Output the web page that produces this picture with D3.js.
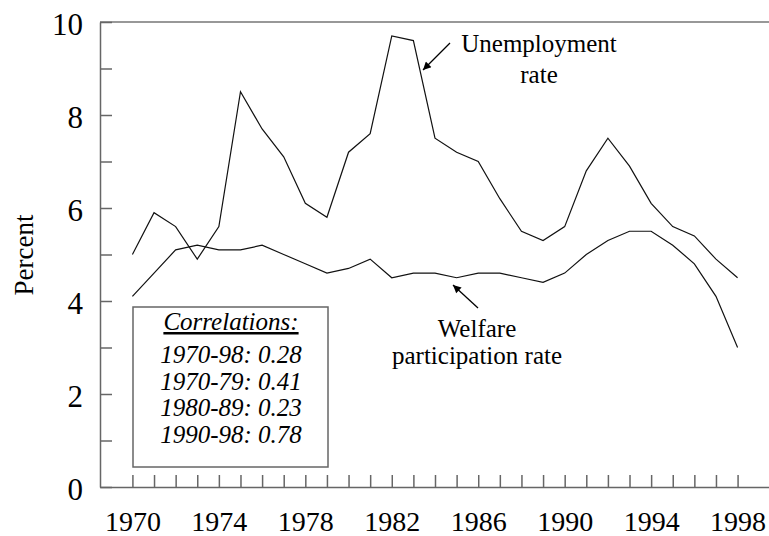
<!DOCTYPE html>
<html>
<head>
<meta charset="utf-8">
<script src="https://cdn.jsdelivr.net/npm/d3@7"></script>
<style>
  body { margin: 0; background: #fff; }
  svg { display: block; font-family: "Liberation Serif", "Times New Roman", serif; }
</style>
</head>
<body>
<svg id="chart" width="769" height="536"></svg>
<script>
"use strict";
// data
var years = d3.range(1970, 1999);
var unemployment = [5.0, 5.9, 5.6, 4.9, 5.6, 8.5, 7.7, 7.1, 6.1, 5.8,
                    7.2, 7.6, 9.7, 9.6, 7.5, 7.2, 7.0, 6.2, 5.5, 5.3,
                    5.6, 6.8, 7.5, 6.9, 6.1, 5.6, 5.4, 4.9, 4.5];
var welfare = [4.1, 4.6, 5.1, 5.2, 5.1, 5.1, 5.2, 5.0, 4.8, 4.6,
               4.7, 4.9, 4.5, 4.6, 4.6, 4.5, 4.6, 4.6, 4.5, 4.4,
               4.6, 5.0, 5.3, 5.5, 5.5, 5.2, 4.8, 4.1, 3.0];
var xLabelYears = [1970, 1974, 1978, 1982, 1986, 1990, 1994, 1998];
var yTicks = d3.range(0, 11);
var yLabels = [0, 2, 4, 6, 8, 10];
var corrTitle = "Correlations:";
var corrLines = ["1970-98: 0.28", "1970-79: 0.41", "1980-89: 0.23", "1990-98: 0.78"];

var svg = d3.select("#chart");
var plotLeft = 100, plotRight = 770, plotTop = 22, plotBottom = 487;

var x = d3.scaleLinear().domain([1968.5, 1999.5]).range([plotLeft, plotRight]);
var y = d3.scaleLinear().domain([0, 10]).range([plotBottom, plotTop]);

// top frame line
svg.append("line")
  .attr("x1", plotLeft).attr("x2", plotRight)
  .attr("y1", plotTop).attr("y2", plotTop)
  .attr("stroke", "#333").attr("stroke-width", 1.2);

// x axis, ticks pointing up
var xAxis = svg.append("g")
  .attr("transform", "translate(0," + plotBottom + ")")
  .call(d3.axisBottom(x).tickValues(years).tickSizeInner(-12).tickSizeOuter(0)
    .tickFormat(function(d) { return xLabelYears.indexOf(d) >= 0 ? d : ""; }));
xAxis.selectAll("path,line").attr("stroke", "#666").attr("stroke-width", 1.5);
xAxis.selectAll("text")
  .attr("y", 44).attr("dy", 0)
  .attr("fill", "#000")
  .style("font-family", "'Liberation Serif', 'Times New Roman', serif")
  .style("font-size", "28px");

// y axis, ticks pointing right
var yAxis = svg.append("g")
  .attr("transform", "translate(" + plotLeft + ",0)")
  .call(d3.axisLeft(y).tickValues(yTicks).tickSizeInner(-12).tickSizeOuter(0)
    .tickFormat(function(d) { return yLabels.indexOf(d) >= 0 ? d : ""; }));
yAxis.selectAll("path,line").attr("stroke", "#666").attr("stroke-width", 1.5);
yAxis.selectAll("text")
  .attr("x", -17).attr("dy", "0.4em")
  .attr("fill", "#000")
  .style("font-family", "'Liberation Serif', 'Times New Roman', serif")
  .style("font-size", "31px");

// axis title
svg.append("text")
  .attr("transform", "translate(33,255) rotate(-90)")
  .attr("text-anchor", "middle")
  .style("font-size", "27px")
  .text("Percent");

// series lines
var line = d3.line()
  .x(function(d, i) { return x(years[i]); })
  .y(function(d) { return y(d); });

svg.append("path").datum(unemployment)
  .attr("d", line).attr("fill", "none")
  .attr("stroke", "#111").attr("stroke-width", 1.2);
svg.append("path").datum(welfare)
  .attr("d", line).attr("fill", "none")
  .attr("stroke", "#111").attr("stroke-width", 1.2);

// arrowhead
svg.append("defs").append("marker")
  .attr("id", "arrow")
  .attr("viewBox", "0 0 10 10")
  .attr("refX", 10).attr("refY", 5)
  .attr("markerWidth", 10).attr("markerHeight", 8)
  .attr("markerUnits", "userSpaceOnUse")
  .attr("orient", "auto")
  .append("path").attr("d", "M0,0 L10,5 L0,10 z").attr("fill", "#000");

// annotations
svg.append("line")
  .attr("x1", 450).attr("y1", 43).attr("x2", 423).attr("y2", 70)
  .attr("stroke", "#000").attr("stroke-width", 1.3)
  .attr("marker-end", "url(#arrow)");
svg.append("text").attr("x", 539).attr("y", 52).attr("text-anchor", "middle")
  .style("font-size", "25px").text("Unemployment");
svg.append("text").attr("x", 539).attr("y", 83).attr("text-anchor", "middle")
  .style("font-size", "25px").text("rate");

svg.append("line")
  .attr("x1", 478).attr("y1", 308).attr("x2", 453).attr("y2", 285)
  .attr("stroke", "#000").attr("stroke-width", 1.3)
  .attr("marker-end", "url(#arrow)");
svg.append("text").attr("x", 477).attr("y", 337).attr("text-anchor", "middle")
  .style("font-size", "25px").text("Welfare");
svg.append("text").attr("x", 477).attr("y", 364).attr("text-anchor", "middle")
  .style("font-size", "25px").text("participation rate");

// correlations box
var box = svg.append("g");
box.append("rect")
  .attr("x", 133).attr("y", 307).attr("width", 195).attr("height", 160)
  .attr("fill", "#fff").attr("stroke", "#666").attr("stroke-width", 1.5);
box.append("text").attr("x", 231).attr("y", 330).attr("text-anchor", "middle")
  .style("font-size", "25px").style("font-style", "italic")
  .style("text-decoration", "underline")
  .text(corrTitle);
box.selectAll("text.corr").data(corrLines).enter().append("text")
  .attr("class", "corr")
  .attr("x", 231)
  .attr("y", function(d, i) { return 363 + i * 26.7; })
  .attr("text-anchor", "middle")
  .style("font-size", "25px").style("font-style", "italic")
  .text(function(d) { return d; });
</script>
</body>
</html>
